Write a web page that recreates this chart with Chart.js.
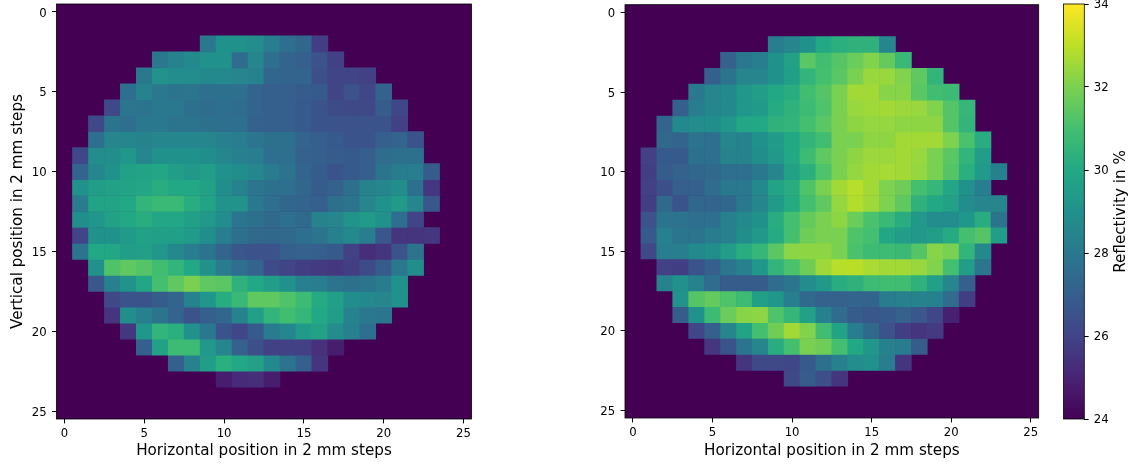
<!DOCTYPE html>
<html>
<head>
<meta charset="utf-8">
<title>Reflectivity maps</title>
<script src="https://cdn.jsdelivr.net/npm/chart.js@4"></script>
<style>
  html, body { margin: 0; padding: 0; background: #fff; overflow: hidden; }
  canvas { position: absolute; top: 0; }
</style>
</head>
<body>
<canvas id="left-map" width="490" height="465" style="left:0"></canvas>
<canvas id="right-map" width="450" height="465" style="left:590px"></canvas>
<canvas id="colorbar" width="94" height="465" style="left:1040px"></canvas>
<script>
const X_LABEL = 'Horizontal position in 2 mm steps'
const Y_LABEL = 'Vertical position in 2 mm steps'
const BAR_LABEL = 'Reflectivity in %'
const MAP_TICKS = [0, 5, 10, 15, 20, 25]
const BAR_TICKS = [24, 26, 28, 30, 32, 34]
const MIN_VALUE = 24
const MAX_VALUE = 34

// first measured column of each row, rows 2 to 23
const leftStarts = [9, 6, 5, 4, 3, 2, 2, 1, 1, 1, 1, 1, 1, 1, 2, 2, 3, 3, 4, 5, 7, 10]
const leftRows = [
  [28.0, 29.0, 29.0, 28.8, 28.2, 27.6, 27.3, 25.8],
  [28.0, 28.4, 28.7, 29.0, 29.0, 27.5, 28.5, 27.6, 27.2, 27.0, 26.5, 25.9],
  [28.0, 29.1, 28.8, 28.8, 28.7, 28.7, 28.5, 28.4, 27.3, 27.2, 27.2, 26.4, 26.0, 26.0, 25.9],
  [27.6, 28.4, 28.0, 27.8, 27.9, 27.6, 27.7, 27.6, 27.2, 27.0, 27.0, 26.9, 26.8, 26.0, 26.5, 26.1, 27.1],
  [26.2, 27.9, 27.8, 28.0, 28.0, 27.7, 27.5, 27.6, 27.5, 27.2, 27.0, 27.0, 26.8, 26.6, 26.3, 26.2, 26.2, 26.9, 26.1],
  [26.2, 27.8, 27.6, 28.0, 28.0, 27.8, 27.8, 27.7, 27.6, 27.6, 27.1, 27.0, 27.0, 26.8, 26.6, 26.5, 26.5, 26.5, 26.6, 25.9],
  [27.6, 28.5, 28.6, 28.4, 28.6, 28.6, 28.6, 28.6, 28.3, 28.2, 27.9, 27.7, 27.7, 27.2, 27.0, 26.8, 26.6, 26.6, 27.0, 27.2, 26.6],
  [26.1, 28.8, 28.9, 29.2, 28.6, 29.0, 29.0, 29.0, 28.9, 28.6, 28.3, 28.2, 27.6, 27.6, 27.1, 27.0, 26.9, 26.8, 27.0, 27.5, 27.7, 27.7],
  [27.2, 28.6, 29.0, 29.7, 29.8, 29.9, 29.5, 29.3, 29.5, 29.0, 28.9, 28.6, 28.1, 27.8, 27.2, 26.9, 26.6, 26.8, 27.0, 27.8, 28.1, 28.2, 26.9],
  [29.0, 29.5, 29.7, 29.8, 29.9, 30.2, 30.0, 30.0, 29.7, 28.9, 28.4, 27.9, 27.7, 27.6, 27.3, 26.9, 27.1, 27.7, 28.4, 28.6, 28.9, 27.7, 25.6],
  [28.1, 29.8, 29.8, 30.0, 30.5, 30.7, 30.7, 30.2, 29.8, 29.1, 29.1, 28.0, 27.6, 27.3, 27.2, 27.0, 27.7, 27.8, 28.5, 29.0, 29.4, 28.6, 26.7],
  [28.9, 29.2, 29.7, 30.0, 30.2, 29.9, 29.9, 29.6, 29.3, 28.8, 27.9, 27.7, 27.4, 27.6, 27.4, 28.4, 28.5, 29.1, 29.4, 29.0, 27.6, 26.0],
  [26.0, 29.0, 29.0, 29.4, 29.7, 29.6, 29.6, 29.4, 28.9, 28.2, 27.7, 27.4, 27.3, 27.4, 27.6, 27.8, 28.3, 28.7, 28.2, 26.7, 25.5, 25.5, 25.6],
  [27.8, 30.0, 29.9, 29.5, 29.6, 29.2, 28.7, 28.2, 27.8, 27.2, 26.7, 26.5, 26.5, 27.0, 27.1, 27.0, 26.8, 25.9, 25.3, 25.5, 26.6, 27.8],
  [29.0, 31.2, 31.5, 31.3, 30.9, 30.5, 30.0, 29.0, 28.1, 27.6, 27.2, 26.3, 26.0, 25.8, 25.7, 25.6, 25.8, 26.3, 26.9, 28.0, 28.9],
  [26.7, 28.3, 29.1, 29.9, 31.0, 31.5, 32.0, 31.5, 31.4, 30.4, 30.0, 29.5, 29.0, 28.3, 28.2, 27.8, 27.7, 27.8, 28.1, 29.0],
  [26.2, 26.6, 26.6, 26.9, 27.2, 28.4, 29.2, 30.2, 30.7, 31.5, 31.5, 31.2, 30.8, 30.1, 29.6, 28.9, 28.7, 28.5, 29.0],
  [25.5, 28.9, 28.3, 27.8, 27.2, 26.5, 27.0, 27.3, 28.4, 29.6, 30.5, 30.9, 30.6, 30.0, 29.5, 28.4, 28.0, 27.9],
  [25.6, 29.2, 30.5, 30.3, 29.0, 28.0, 26.6, 26.1, 26.8, 28.1, 28.6, 29.4, 29.7, 28.8, 28.3, 27.6],
  [27.0, 29.7, 30.8, 30.8, 29.3, 28.5, 27.1, 26.4, 25.9, 25.9, 25.9, 25.4, 24.8],
  [27.0, 28.4, 29.5, 30.3, 30.0, 29.7, 28.7, 27.8, 27.0, 25.5],
  [24.8, 25.2, 25.3, 24.8],
]

const rightStarts = [9, 6, 5, 4, 3, 2, 2, 1, 1, 1, 1, 1, 1, 1, 2, 2, 3, 3, 4, 5, 7, 10]
const rightRows = [
  [28.2, 28.5, 29.0, 30.0, 30.3, 30.4, 30.4, 28.5],
  [27.1, 28.0, 28.2, 29.0, 29.7, 31.4, 30.9, 31.3, 31.7, 32.1, 31.6, 30.7],
  [27.0, 27.8, 28.5, 28.5, 29.0, 29.6, 30.5, 31.0, 31.4, 32.0, 32.45, 32.45, 32.1, 31.5, 30.5],
  [28.0, 28.5, 28.7, 29.2, 29.5, 30.0, 30.2, 30.9, 31.3, 32.0, 32.6, 32.6, 32.2, 32.2, 31.4, 30.9, 30.8],
  [27.0, 28.2, 28.6, 28.7, 29.2, 29.4, 30.1, 30.4, 30.8, 31.2, 32.0, 32.45, 32.55, 32.6, 32.5, 32.45, 32.1, 31.3, 30.6],
  [27.2, 28.7, 28.8, 28.9, 29.2, 29.9, 30.0, 30.4, 30.5, 31.0, 31.4, 32.0, 32.3, 32.4, 32.4, 32.3, 32.3, 32.3, 31.3, 30.5],
  [27.4, 27.2, 27.8, 27.6, 28.5, 28.4, 29.0, 29.4, 30.0, 30.5, 30.9, 32.0, 32.0, 32.3, 32.3, 32.6, 32.6, 32.6, 32.05, 31.1, 30.2],
  [25.9, 26.8, 26.8, 27.7, 27.6, 28.4, 28.4, 28.9, 29.3, 30.0, 30.8, 31.5, 32.0, 32.3, 32.5, 32.5, 32.6, 32.45, 32.0, 31.4, 30.5, 29.5],
  [25.8, 26.9, 27.1, 27.3, 27.4, 27.6, 27.6, 28.0, 28.5, 29.7, 30.3, 31.2, 32.0, 32.4, 32.6, 32.65, 32.6, 32.4, 32.0, 31.3, 30.3, 29.4, 28.3],
  [25.9, 26.4, 27.0, 27.0, 27.5, 28.0, 28.0, 28.7, 29.8, 30.2, 31.2, 32.0, 32.6, 32.9, 32.6, 32.05, 31.8, 31.0, 30.6, 29.9, 29.0, 28.2],
  [25.8, 27.4, 26.6, 27.3, 27.2, 27.3, 28.0, 28.6, 29.4, 30.1, 31.0, 31.5, 32.4, 32.85, 32.55, 32.05, 31.5, 30.4, 30.0, 29.7, 28.8, 28.5, 28.5],
  [26.5, 27.8, 27.8, 27.6, 27.6, 28.3, 28.7, 29.0, 30.2, 31.0, 31.6, 32.0, 32.3, 31.7, 31.1, 30.7, 30.2, 29.3, 28.8, 28.8, 29.2, 30.2, 27.8],
  [26.8, 28.3, 27.9, 27.8, 28.1, 28.3, 28.9, 29.3, 30.1, 31.0, 31.8, 32.0, 32.0, 31.2, 31.0, 29.9, 29.5, 29.3, 29.5, 30.1, 31.0, 31.3, 29.5],
  [26.2, 28.2, 28.2, 28.7, 28.9, 29.5, 30.2, 30.6, 31.4, 32.25, 32.3, 32.3, 32.0, 31.1, 30.8, 30.8, 30.7, 31.3, 32.2, 32.0, 30.5, 28.7],
  [25.9, 25.8, 26.6, 27.0, 27.9, 28.3, 29.2, 30.5, 31.1, 31.8, 32.55, 32.9, 32.95, 32.7, 32.6, 32.6, 32.45, 32.1, 31.0, 29.5, 27.9],
  [28.4, 29.0, 28.4, 27.5, 26.9, 26.9, 26.9, 27.5, 27.9, 28.8, 29.3, 30.2, 30.4, 30.8, 30.9, 30.9, 30.4, 29.6, 28.5, 27.0],
  [29.1, 31.3, 31.6, 31.2, 30.8, 29.6, 29.2, 28.2, 27.4, 27.1, 27.1, 27.2, 27.2, 28.1, 28.3, 28.4, 28.3, 27.5, 25.8],
  [26.9, 29.0, 30.8, 31.7, 32.2, 32.3, 31.2, 30.6, 29.7, 28.3, 27.5, 26.9, 26.7, 26.8, 27.1, 26.7, 26.1, 24.9],
  [26.1, 27.0, 28.5, 29.8, 31.0, 31.8, 32.6, 32.1, 30.9, 29.8, 28.2, 27.4, 26.5, 25.8, 25.5, 25.7],
  [25.6, 26.6, 27.8, 28.5, 30.2, 31.0, 32.0, 31.8, 31.0, 30.0, 29.2, 28.3, 28.1, 26.9],
  [25.5, 26.2, 26.2, 26.1, 26.8, 27.7, 28.3, 28.8, 29.0, 28.2, 25.5],
  [26.2, 26.9, 26.4, 25.5],
]

const FIRST_ROW = 2
const CELL_HALF = 0.52 // a little overlap, otherwise the antialiased edges leave seams
const VIRIDIS = ['#440154', '#482475', '#414487', '#355f8d', '#2a788e', '#21918c', '#22a884', '#44bf70', '#7ad151', '#bddf26', '#fde725']
const TICK_FONT = { family: 'DejaVu Sans', size: 11.7 }
const TITLE_FONT = { family: 'DejaVu Sans', size: 15.2 }
const INK = '#000'

function hexToRgb(hex) {
  return [1, 3, 5].map(i => parseInt(hex.slice(i, i + 2), 16))
}

function viridis(value) {
  const t = Math.min(1, Math.max(0, (value - MIN_VALUE) / (MAX_VALUE - MIN_VALUE))) * (VIRIDIS.length - 1)
  const i = Math.min(VIRIDIS.length - 2, Math.floor(t))
  const a = hexToRgb(VIRIDIS[i])
  const b = hexToRgb(VIRIDIS[i + 1])
  const c = a.map((v, k) => Math.round(v + (b[k] - v) * (t - i)))
  return `rgb(${c[0]},${c[1]},${c[2]})`
}

// one floating bar per measured cell, one dataset per image row
function rowDatasets(starts, rows) {
  return rows.map((values, i) => {
    const row = FIRST_ROW + i
    return {
      data: values.map((v, k) => ({ x: starts[i] + k, y: [row - CELL_HALF, row + CELL_HALF] })),
      backgroundColor: values.map(viridis),
      borderWidth: 0,
      barPercentage: 1.04,
      categoryPercentage: 1,
    }
  })
}

// everything outside the sample sits at the bottom of the colour scale
const mapBackground = {
  id: 'mapBackground',
  beforeDatasetsDraw(chart) {
    const { ctx, chartArea: a } = chart
    ctx.save()
    ctx.fillStyle = VIRIDIS[0]
    ctx.fillRect(a.left, a.top, a.right - a.left, a.bottom - a.top)
    ctx.restore()
  },
}

const frame = {
  id: 'frame',
  afterDraw(chart) {
    const { ctx, chartArea: a } = chart
    ctx.save()
    ctx.strokeStyle = INK
    ctx.lineWidth = 0.8
    ctx.strokeRect(a.left, a.top, a.right - a.left, a.bottom - a.top)
    ctx.restore()
  },
}

function fixedTicks(values) {
  return scale => { scale.ticks = values.map(value => ({ value })) }
}

function mapAxis(box, yTitle) {
  const base = {
    type: 'linear',
    min: -0.5,
    max: 25.5,
    offset: false,
    afterBuildTicks: fixedTicks(MAP_TICKS),
    border: { display: false },
    grid: { offset: false, drawOnChartArea: false, drawTicks: true, tickLength: 4.4, tickColor: INK, tickWidth: 1 },
  }
  const ticks = { autoSkip: false, maxRotation: 0, color: INK, font: TICK_FONT, callback: v => String(v) }
  return {
    x: {
      ...base,
      ticks: { ...ticks, padding: 3.6 },
      title: { display: true, text: X_LABEL, color: INK, font: TITLE_FONT, padding: { top: 0, bottom: 4.4 } },
      afterFit: s => { s.height = box.bottomGap; s.paddingLeft = 0; s.paddingRight = 0 },
    },
    y: {
      ...base,
      reverse: true,
      ticks: { ...ticks, padding: 5.5, labelOffset: 1.5 },
      title: { display: !!yTitle, text: yTitle, color: INK, font: TITLE_FONT, padding: { top: 8.9, bottom: 0 } },
      afterFit: s => { s.width = box.left; s.paddingTop = 0; s.paddingBottom = 0 },
    },
  }
}

function makeMap(canvasId, starts, rows, box, yTitle) {
  return new Chart(document.getElementById(canvasId), {
    type: 'bar',
    data: { datasets: rowDatasets(starts, rows) },
    options: {
      responsive: false,
      animation: false,
      devicePixelRatio: 1,
      grouped: false,
      layout: { padding: { top: box.top, right: box.right, bottom: 0, left: 0 } },
      plugins: { legend: { display: false }, tooltip: { enabled: false } },
      scales: mapAxis(box, yTitle),
    },
    plugins: [mapBackground, frame],
  })
}

makeMap('left-map', leftStarts, leftRows, { left: 56.5, top: 4, right: 18.5, bottomGap: 46 }, Y_LABEL)
makeMap('right-map', rightStarts, rightRows, { left: 35, top: 4.7, right: 1.3, bottomGap: 47 }, '')

const barTitle = {
  id: 'barTitle',
  afterDraw(chart) {
    const { ctx, chartArea: a } = chart
    ctx.save()
    ctx.translate(81, (a.top + a.bottom) / 2)
    ctx.rotate(-Math.PI / 2)
    ctx.font = `${TITLE_FONT.size}px "${TITLE_FONT.family}"`
    ctx.fillStyle = INK
    ctx.textAlign = 'center'
    ctx.textBaseline = 'middle'
    ctx.fillText(BAR_LABEL, 0, 0)
    ctx.restore()
  },
}

new Chart(document.getElementById('colorbar'), {
  type: 'bar',
  data: {
    labels: [''],
    datasets: [{
      data: [[MIN_VALUE, MAX_VALUE]],
      barPercentage: 1,
      categoryPercentage: 1,
      backgroundColor: ctx => {
        const a = ctx.chart.chartArea
        if (!a) return VIRIDIS[0]
        const g = ctx.chart.ctx.createLinearGradient(0, a.bottom, 0, a.top)
        VIRIDIS.forEach((c, i) => g.addColorStop(i / (VIRIDIS.length - 1), c))
        return g
      },
    }],
  },
  options: {
    responsive: false,
    animation: false,
    devicePixelRatio: 1,
    layout: { padding: { top: 4, right: 0, bottom: 46, left: 23.5 } },
    plugins: { legend: { display: false }, tooltip: { enabled: false } },
    scales: {
      x: { display: false },
      y: {
        position: 'right',
        min: MIN_VALUE,
        max: MAX_VALUE,
        afterBuildTicks: fixedTicks(BAR_TICKS),
        afterFit: s => { s.width = 49.7; s.paddingTop = 0; s.paddingBottom = 0 },
        border: { display: false },
        grid: { drawOnChartArea: false, drawTicks: true, tickLength: 4.4, tickColor: INK, tickWidth: 1 },
        ticks: { color: INK, font: TICK_FONT, padding: 5, labelOffset: 1, callback: v => String(v) },
      },
    },
  },
  plugins: [frame, barTitle],
})
</script>
</body>
</html>
